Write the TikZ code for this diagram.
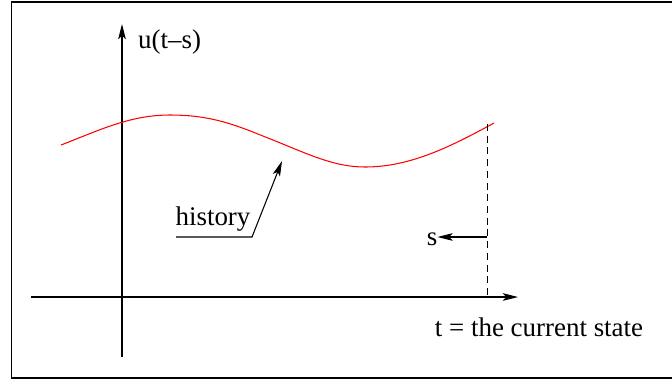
\documentclass[tikz,border=0pt]{standalone}
\usepackage{fontspec}
\setmainfont{Liberation Serif}
\usetikzlibrary{arrows.meta}
\definecolor{histRed}{RGB}{255, 0, 0}

\begin{document}
\begin{tikzpicture}[x=0.03cm, y=-0.03cm,
      lbl/.style={inner sep=0pt, font=\fontsize{23}{27}\selectfont},
      axis/.style={line width=0.9pt},
      arrow/.style={-{Stealth[length=13pt, width=6.5pt, inset=3pt]}, line width=0.9pt},
      frame/.style={line width=1.7pt}
    ]
      \useasboundingbox (0,0) rectangle (672,379);
      \draw[frame] (672,2) -- (11.5,2) -- (11.5,377.5) -- (672,377.5);
      % axes
      \coordinate (yfoot) at (122,357);
      \coordinate (ytip) at (122,24);
      \coordinate (xfoot) at (31,297);
      \coordinate (xtip) at (518,297);
      \draw[arrow] (yfoot) -- (ytip);
      \draw[arrow] (xfoot) -- (xtip);
      \node[lbl, anchor=base west] (ulab) at (138,48) {u(t\textendash s)};
      \node[lbl, anchor=base] (tlab) at (539,336) {t = the current state};
      % the past values of u
      \draw[histRed, line width=0.9pt] (61,145) .. controls (100,130) and (130,115) .. (170,115)
        .. controls (215,115) and (240,127) .. (273,140)
        .. controls (310,155) and (335,167) .. (365,167)
        .. controls (410,167) and (450,147) .. (494,123);
      \coordinate (now) at (487,124);
      \coordinate (nowfoot) at (487,297);
      \draw[dashed, line width=0.8pt, dash pattern=on 6pt off 4pt] (now) -- (nowfoot);
      \node[lbl, anchor=base] (slab) at (432,245) {s};
      \coordinate (sstart) at (487,237);
      \draw[arrow] (sstart) -- (slab.east |- sstart);
      \node[lbl, anchor=base] (hist) at (213,225) {history};
      \coordinate (hleft) at (176,237);
      \coordinate (hkink) at (252,237);
      \coordinate (htip) at (282,161);
      \draw[arrow] (hleft) -- (hkink) -- (htip);
    \end{tikzpicture}
\end{document}
